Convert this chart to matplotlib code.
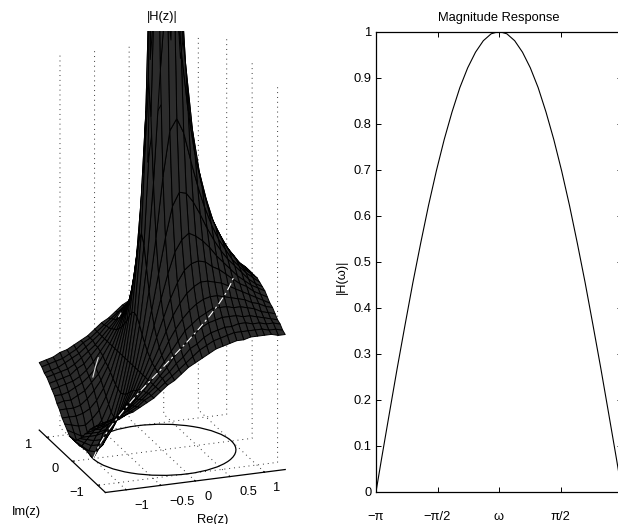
import numpy as np
import matplotlib
matplotlib.use("Agg")
import matplotlib.pyplot as plt
from matplotlib.patches import Circle
from matplotlib.transforms import Bbox
from mpl_toolkits.mplot3d import art3d, proj3d

# ---------- data ----------
grid_re = [-1.3,-1.2,-1.1,-1.0,-0.9,-0.8,-0.7,-0.6,-0.5,-0.4,-0.3,-0.2,-0.1,0.0,0.1,0.2,0.3,0.4,0.5,0.6,0.7,0.8,0.9,1.0,1.1,1.2,1.3]
grid_im = [-1.3,-1.2,-1.1,-1.0,-0.9,-0.8,-0.7,-0.6,-0.5,-0.4,-0.3,-0.2,-0.1,0.0,0.1,0.2,0.3,0.4,0.5,0.6,0.7,0.8,0.9,1.0,1.1,1.2,1.3]

# surface heights per Im row (|Im| = 0 .. 1.3); the surface is mirror-symmetric in Im
h_00 = [.12,.08,.05,.00,.06,.13,.21,.33,.50,.75,1.17,2.00,4.50,9.00,5.50,3.00,2.17,1.75,1.50,1.33,1.21,1.13,1.06,1.00,.95,.92,.88]
h_01 = [.12,.09,.06,.05,.08,.14,.22,.34,.50,.74,1.12,1.80,3.20,5.02,3.90,2.69,2.06,1.70,1.47,1.32,1.20,1.12,1.05,1.00,.95,.91,.88]
h_02 = [.14,.12,.10,.10,.12,.17,.25,.35,.50,.71,1.01,1.46,2.06,2.55,2.50,2.15,1.82,1.58,1.41,1.27,1.18,1.10,1.04,.99,.94,.91,.88]
h_03 = [.16,.15,.14,.14,.17,.21,.28,.37,.50,.67,.90,1.18,1.50,1.74,1.80,1.72,1.57,1.43,1.31,1.21,1.13,1.07,1.01,.97,.93,.90,.87]
h_04 = [.18,.18,.18,.19,.21,.25,.31,.39,.50,.64,.81,1.00,1.19,1.35,1.42,1.41,1.36,1.29,1.21,1.14,1.08,1.03,.99,.95,.91,.88,.86]
h_05 = [.21,.21,.21,.22,.25,.29,.34,.41,.50,.61,.74,.88,1.01,1.12,1.18,1.21,1.19,1.16,1.12,1.07,1.03,.99,.95,.92,.89,.87,.85]
h_06 = [.23,.24,.24,.26,.28,.32,.36,.42,.50,.59,.69,.79,.89,.97,1.03,1.06,1.07,1.06,1.03,1.01,.98,.95,.92,.90,.87,.85,.83]
h_07 = [.26,.26,.27,.29,.31,.34,.38,.44,.50,.57,.65,.73,.81,.87,.92,.95,.97,.97,.96,.95,.93,.91,.89,.87,.85,.83,.81]
h_08 = [.28,.29,.30,.31,.33,.36,.40,.45,.50,.56,.62,.69,.75,.80,.84,.87,.89,.90,.90,.89,.88,.87,.86,.84,.83,.81,.80]
h_09 = [.30,.31,.32,.33,.36,.38,.42,.46,.50,.55,.60,.65,.70,.75,.78,.81,.83,.85,.85,.85,.84,.84,.83,.82,.80,.79,.78]
h_10 = [.32,.33,.34,.35,.37,.40,.43,.46,.50,.54,.58,.63,.67,.71,.74,.77,.79,.80,.81,.81,.81,.80,.80,.79,.78,.77,.76]
h_11 = [.33,.34,.35,.37,.39,.41,.44,.47,.50,.54,.57,.61,.64,.68,.70,.73,.75,.76,.77,.77,.78,.78,.77,.77,.76,.76,.75]
h_12 = [.35,.36,.37,.38,.40,.42,.45,.47,.50,.53,.56,.59,.62,.65,.68,.70,.72,.73,.74,.75,.75,.75,.75,.75,.74,.74,.73]
h_13 = [.36,.37,.38,.40,.41,.43,.45,.47,.50,.53,.55,.58,.61,.63,.65,.67,.69,.70,.71,.72,.72,.73,.73,.73,.73,.72,.72]
height_rows = [h_13,h_12,h_11,h_10,h_09,h_08,h_07,h_06,h_05,h_04,h_03,h_02,h_01,h_00,
               h_01,h_02,h_03,h_04,h_05,h_06,h_07,h_08,h_09,h_10,h_11,h_12,h_13]

circle_radius = 1.0

# white trace on the surface, visible stretches only
trace_re_front = [-1.0,-.985,-.94,-.866,-.766,-.643,-.5,-.342,-.174,0.0,.174,.342,.5,.643,.766,.819]
trace_im_front = [0.0,-.174,-.342,-.5,-.643,-.766,-.866,-.94,-.985,-1.0,-.985,-.94,-.866,-.766,-.643,-.574]
trace_h_front  = [0.0,.087,.174,.259,.342,.423,.5,.574,.643,.707,.766,.819,.866,.906,.94,.954]
trace_re_back  = [-.766,-.707,-.643]
trace_im_back  = [.643,.707,.766]
trace_h_back   = [.342,.383,.423]
trace_re_far   = [-.276,-.242]
trace_im_far   = [.961,.970]
trace_h_far    = [.60,.616]

omega = [-3.14,-3.0,-2.8,-2.6,-2.4,-2.2,-2.0,-1.8,-1.6,-1.4,-1.2,-1.0,-.8,-.6,-.4,-.2,0.0,
         .2,.4,.6,.8,1.0,1.2,1.4,1.6,1.8,2.0,2.2,2.4,2.6,2.8,3.0,3.14]
magnitude = [0.0,.071,.170,.268,.362,.454,.540,.622,.697,.765,.825,.878,.921,.955,.980,.995,1.0,
             .995,.980,.955,.921,.878,.825,.765,.697,.622,.540,.454,.362,.268,.170,.071,0.0]

re_ticks = [-1,-0.5,0,0.5,1]
re_labels = ["\u22121","\u22120.5","0","0.5","1"]
im_ticks = [-1,0,1]
im_labels = ["\u22121","0","1"]
mag_ticks = [0,.1,.2,.3,.4,.5,.6,.7,.8,.9,1]
mag_labels = ["0","0.1","0.2","0.3","0.4","0.5","0.6","0.7","0.8","0.9","1"]
omega_ticks = [-np.pi,-np.pi/2,0,np.pi/2,np.pi]
omega_labels = ["\u2212\u03c0","\u2212\u03c0/2","\u03c9","\u03c0/2",""]

# ---------- figure ----------
plt.rcParams['font.family'] = ['Liberation Sans','DejaVu Sans']
W, H = 618, 524
fig = plt.figure(figsize=(W/100, H/100), dpi=100, facecolor='white')
FS = 9.3

def rect(x0, y0, x1, y1):
    return [x0/W, (H-y1)/H, (x1-x0)/W, (y1-y0)/H]

# ---------- left: 3D surface ----------
ax = fig.add_axes(rect(-74.5, 38, 386.5, 499), projection='3d', proj_type='ortho', computed_zorder=False)
ax.patch.set_alpha(0)
ax.view_init(elev=20.3, azim=-110.2, roll=0)
ax.set_xlim(-1.3, 1.3); ax.set_ylim(-1.3, 1.3); ax.set_zlim(0, 2)
ax.set_box_aspect((1, 1, 2.087), zoom=1.0)

RE, IM = np.meshgrid(grid_re, grid_im)
ZZ = np.array(height_rows)
surf = ax.plot_surface(RE, IM, ZZ, rstride=1, cstride=1, shade=False, color='#2c2c2c',
                       edgecolor='black', linewidth=0.7, antialiased=True, zorder=3)
surf.set_clip_path(None)
surf.set_clip_box(Bbox([[0, 0], [W, H-31]]))

ring = Circle((0, 0), circle_radius, fill=False, edgecolor='black', linewidth=0.9, zorder=2)
ax.add_patch(ring)
art3d.pathpatch_2d_to_3d(ring, z=0, zdir='z')

ax.plot(trace_re_front, trace_im_front, trace_h_front, color='white', lw=0.8,
        ls=(0, (7, 3, 2, 3)), zorder=5)
ax.plot(trace_re_back, trace_im_back, trace_h_back, color='#dddddd', lw=0.8, zorder=5)
ax.plot(trace_re_far, trace_im_far, trace_h_far, color='#dddddd', lw=0.8, zorder=5)

for axis in (ax.xaxis, ax.yaxis, ax.zaxis):
    axis.pane.set_fill(False)
    axis.pane.set_edgecolor('none')
    axis._axinfo['grid'].update(color='#333333', linewidth=0.7, linestyle=(0, (1, 4)))
    axis._axinfo['tick'].update(inward_factor=0.0, outward_factor=0.12, linewidth={True:0.8, False:0.8})
    axis.line.set_linewidth(0.9)
    axis.line.set_color('black')
ax.zaxis.line.set_visible(False)
ax.set_zticks([])
ax.set_xticks(re_ticks); ax.set_xticklabels([""]*len(re_ticks))
ax.set_yticks(im_ticks); ax.set_yticklabels([""]*len(im_ticks))
ax.grid(True)

# scale the box so its floor spans the measured pixel width
fig.canvas.draw()
def px(x, y, z):
    xs, ys, _ = proj3d.proj_transform(x, y, z, ax.get_proj())
    return ax.transData.transform((xs, ys))
span = px(1.3, -1.3, 0)[0] - px(-1.3, 1.3, 0)[0]
ax.set_box_aspect((1, 1, 2.087), zoom=246.0/span)

def ptext(x, y, s):
    fig.text(x/W, 1-y/H, s, ha='center', va='center', fontsize=FS)

for s, (x, y) in zip(re_labels, [(142,506),(182.5,502),(208,497),(248,492),(277,488)]):
    ptext(x, y, s)
for s, (x, y) in zip(im_labels, [(77,493),(55,469),(29,445)]):
    ptext(x, y, s)
ptext(162, 17, "|H(z)|")
ptext(213, 520, "Re(z)")
ptext(26, 512, "Im(z)")

# ---------- right: magnitude response ----------
ax2 = fig.add_axes(rect(376, 31.5, 622, 491.5))
ax2.plot(omega, magnitude, color='black', lw=0.8)
ax2.set_xlim(-np.pi, np.pi); ax2.set_ylim(0, 1)
ax2.set_xticks(omega_ticks); ax2.set_xticklabels(omega_labels, fontsize=FS)
ax2.set_yticks(mag_ticks); ax2.set_yticklabels(mag_labels, fontsize=FS)
ax2.tick_params(direction='in', length=3.6, width=0.7, top=True, right=True, pad=3)
ax2.tick_params(axis='x', pad=14.2)
for s in ax2.spines.values():
    s.set_linewidth(0.9)
ax2.set_title("Magnitude Response", fontsize=FS, pad=7.5)
ax2.set_ylabel("|H(\u03c9)|", fontsize=FS, labelpad=4.4, y=0.466)

fig.savefig("out.png", dpi=100, facecolor='white')
